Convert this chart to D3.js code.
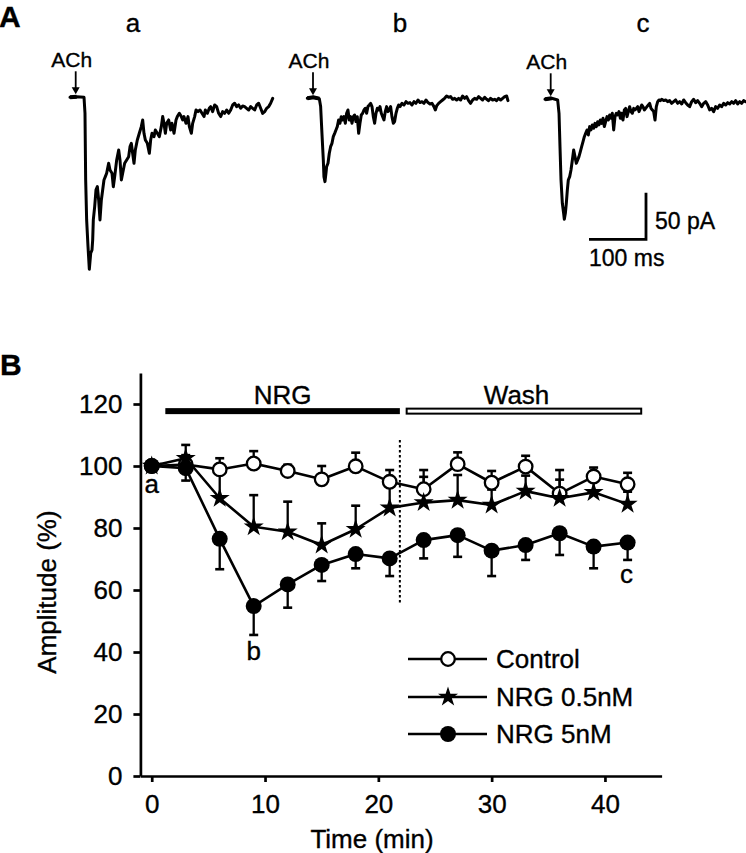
<!DOCTYPE html>
<html>
<head>
<meta charset="utf-8">
<script src="https://cdn.jsdelivr.net/npm/d3@7"></script>
<style>
  html, body { margin: 0; padding: 0; background: #fff; }
  svg { display: block; font-family: "Liberation Sans", Arial, Helvetica, sans-serif; }
  text { stroke: #000; stroke-width: 0.35px; }
</style>
</head>
<body>
<svg id="chart" width="746" height="853"></svg>
<script>
// ---------------- DATA ----------------
// Panel B: time course (min) and amplitude (%)
const times = [0, 3, 6, 9, 12, 15, 18, 21, 24, 27, 30, 33, 36, 39, 42];
const control    = [100, 100.5, 98.9, 100.8, 98.4, 95.7, 99.9, 94.9, 92.5, 100.6, 94.6, 99.8, 91.1, 96.6, 94.1];
const controlErr = [0, 3, 3.6, 4, 2, 4.3, 4.4, 3.8, 6.2, 3.8, 3.8, 3.5, 7.6, 2.9, 3.7];
const nrg05      = [100, 102.5, 89.6, 80.4, 78.8, 74.5, 79.6, 86.5, 88.2, 89, 87.4, 91.9, 89.6, 91.5, 87.7];
const nrg05Err   = [0, 4.3, 9, 10.2, 9.7, 7, 7.6, 8, 8.3, 8.1, 5, 5, 6, 4, 4];
const nrg5       = [100, 99.3, 76.5, 54.8, 61.8, 68.1, 71.6, 70.2, 76.1, 77.7, 72.7, 74.5, 78.3, 74, 75.3];
const nrg5Err    = [0, 4, 9.8, 9.3, 7.5, 5.2, 4.6, 5.7, 5.9, 7, 8.2, 4.8, 7, 7, 5.6];
const seriesNames = ["Control", "NRG 0.5nM", "NRG 5nM"];
const yTicks = [0, 20, 40, 60, 80, 100, 120];
const xTicks = [0, 10, 20, 30, 40];
const nrgPeriod  = [1.2, 21.9];
const washPeriod = [22.5, 43.2];
const washLine   = {t: 21.9, from: 56, to: 109};

// Panel A: current traces [ms, pA]
const traceA = [[0,0],[11.7,0.7],[24.6,0],[26.3,-17.2],[27.5,-88.7],[29.2,-131.6],[31.6,-160.2],[33.9,-184.5],[36.3,-167.4],[38.6,-163.8],[39.8,-153.1],[40.9,-131.6],[43.3,-117.3],[45.6,-99.4],[48,-95.9],[50.3,-110.2],[52.6,-131.6],[55,-110.2],[57.3,-99.4],[59.6,-88.7],[62,-85.1],[64.3,-81.5],[67.8,-70.8],[70.2,-78],[73.7,-81.5],[76,-95.9],[78.4,-85.1],[81.9,-67.2],[85.4,-56.5],[87.7,-67.2],[90.1,-88.7],[92.4,-81.5],[95.9,-70.8],[99.4,-67.2],[102.9,-63.7],[105.3,-52.9],[107.6,-49.4],[109.9,-60.1],[112.3,-70.8],[114.6,-56.5],[118.1,-45.8],[121.6,-38.6],[125.1,-31.5],[127.5,-24.3],[129.8,-38.6],[132.2,-45.8],[135.7,-49.4],[139.2,-60.1],[141.5,-45.8],[143.9,-38.6],[147.4,-42.2],[149.7,-35.1],[153.2,-38.6],[156.7,-42.2],[160.2,-31.5],[162.6,-20.7],[164.9,-27.9],[167.3,-38.6],[169.6,-27.9],[173.1,-24.3],[176.6,-35.1],[178.9,-27.9],[182.5,-38.6],[186,-24.3],[188.3,-20.7],[191.8,-17.2],[195.3,-20.7],[197.7,-24.3],[200,-20.7],[203.5,-27.9],[207,-20.7],[209.4,-31.5],[212.9,-38.6],[215.2,-27.9],[218.7,-20.7],[221.1,-13.6],[224.6,-15.4],[228.1,-13.6],[231.6,-17.2],[235.1,-20.7],[237.4,-13.6],[240.9,-17.2],[244.4,-11.8],[246.8,-10],[250.3,-15.4],[253.8,-8.2],[257.3,-10],[260.8,-17.2],[264.3,-20.7],[267.8,-15.4],[271.3,-17.2],[274.9,-13.6],[278.4,-17.2],[281.9,-13.6],[285.4,-8.2],[288.9,-6.4],[292.4,-10],[295.9,-8.2],[299.4,-11.8],[302.9,-9.3],[306.4,-10],[309.9,-11.8],[313.5,-13.6],[317,-10],[320.5,-11.8],[324,-13.6],[327.5,-8.2],[331,-6.4],[334.5,-11.8],[338,-17.2],[341.5,-15.4],[345,-11.8],[348.5,-10],[352,-6.4],[355.6,-1.1]];
const traceB = [[0,0],[10.5,1.1],[21.1,-0.4],[23.4,-8.9],[25.7,-37.6],[28.1,-66.2],[29.2,-84],[31,-89.4],[32.7,-80.5],[33.9,-73.3],[36.3,-69.7],[38.6,-59],[40.9,-51.9],[43.3,-48.3],[45.6,-41.1],[48,-37.6],[50.3,-34],[52.6,-30.4],[55,-23.2],[57.3,-26.8],[59.6,-19.7],[62,-23.2],[64.3,-19.7],[66.7,-26.8],[69,-16.1],[71.3,-12.5],[73.7,-23.2],[76,-19.7],[78.4,-26.8],[80.7,-19.7],[83,-17.9],[85.4,-25],[87.7,-19.7],[90.1,-37.6],[92.4,-26.8],[94.7,-17.9],[97.1,-16.1],[99.4,-12.5],[101.8,-10.7],[104.1,-16.1],[106.4,-8.9],[108.8,-7.2],[111.1,-5.4],[113.5,-8.9],[115.8,-19.7],[118.1,-26.8],[120.5,-16.1],[122.8,-10.7],[125.1,-12.5],[127.5,-8.9],[129.8,-16.1],[132.2,-19.7],[134.5,-23.2],[136.8,-14.3],[139.2,-8.9],[141.5,-14.3],[143.9,-12.5],[146.2,-8.9],[148.5,-19.7],[150.9,-26.8],[153.2,-25],[155.6,-16.1],[157.9,-10.7],[160.2,-7.2],[162.6,-8.9],[166.1,-5.4],[169.6,-7.2],[173.1,-3.6],[176.6,-5.4],[180.1,-4.6],[183.6,-7.2],[187.1,-3.6],[190.6,-5.4],[194.2,-1.8],[197.7,-4.6],[201.2,-3.6],[204.7,-5.4],[208.2,-1.8],[211.7,-4.6],[215.2,-6.1],[218.7,-5.4],[222.2,-8.9],[224.6,-12.5],[226.9,-8.2],[230.4,-5.4],[233.9,-3.6],[237.4,-1.8],[240.9,0],[244.4,2.5],[248,1.1],[251.5,1.8],[255,-1.1],[258.5,0],[262,-1.8],[265.5,0],[269,-1.8],[272.5,2.5],[276,0],[279.5,1.8],[283,-2.5],[286.5,-5.4],[290.1,-1.8],[293.6,0],[297.1,-1.1],[300.6,1.8],[304.1,0],[307.6,-1.8],[311.1,1.1],[314.6,-1.1],[318.1,-2.5],[321.6,0],[325.1,-1.8],[328.7,-1.1],[332.2,-2.5],[335.7,0],[339.2,-1.8],[342.7,0],[346.2,1.8],[349.7,2.5],[352,-2.5]];
const traceC = [[0,0],[11.7,1.1],[22.2,-0.7],[24.6,-15],[26.3,-50.8],[28.1,-86.6],[30.4,-111.6],[32.7,-122.3],[33.9,-128.8],[35.7,-122.3],[37.4,-111.6],[39.2,-97.3],[40.9,-86.6],[43.3,-83],[45.6,-75.8],[48,-65.1],[50.3,-54.4],[52.6,-61.5],[55,-68.7],[57.3,-65.1],[59.6,-61.5],[62,-56.2],[64.3,-50.8],[66.7,-45.4],[69,-40.1],[71.3,-36.5],[73.7,-32.9],[76,-38.3],[78.4,-29.3],[80.7,-32.9],[83,-27.5],[85.4,-31.1],[87.7,-25.8],[90.1,-29.3],[92.4,-24],[94.7,-27.5],[97.1,-22.2],[99.4,-25.8],[101.8,-20.4],[104.1,-29.3],[106.4,-24],[108.8,-18.6],[111.1,-22.2],[113.5,-16.8],[115.8,-20.4],[118.1,-15],[120.5,-32.9],[122.8,-18.6],[125.1,-15],[127.5,-16.8],[129.8,-13.2],[132.2,-20.4],[134.5,-15],[136.8,-22.2],[139.2,-11.4],[141.5,-9.7],[143.9,-18.6],[146.2,-13.2],[148.5,-7.9],[150.9,-13.2],[153.2,-15],[155.6,-9.7],[157.9,-11.4],[160.2,-9.7],[162.6,-7.9],[164.9,-13.2],[167.3,-9.7],[169.6,-6.1],[171.9,-7.9],[174.3,-11.4],[176.6,-9.7],[178.9,-7.9],[181.3,-6.1],[183.6,-4.3],[186,-9.7],[188.3,-11.4],[190.6,-13.2],[193,-22.2],[195.3,-7.9],[197.7,-2.5],[200,-0.7],[202.3,-1.4],[204.7,0],[208.2,-1.4],[211.7,-0.7],[215.2,-2.5],[218.7,-1.4],[222.2,-4.3],[225.7,-2.5],[229.2,-0.7],[232.7,-4.3],[236.3,-2.5],[239.8,-5],[243.3,-0.7],[246.8,-3.6],[250.3,-6.1],[253.8,-7.9],[257.3,-2.5],[260.8,0],[264.3,-3.6],[267.8,-1.4],[271.3,-4.3],[274.9,-7.9],[278.4,-4.3],[281.9,-2.5],[285.4,-6.1],[288.9,-11.4],[292.4,-9.7],[295.9,-13.2],[299.4,-7.9],[302.9,-9.7],[306.4,-6.1],[309.9,-7.9],[313.5,-4.3],[317,-6.1],[320.5,-3.6],[324,-5],[327.5,-2.5],[331,-4.3],[334.5,-1.4],[338,-5],[341.5,-2.5],[345,-4.3],[348.5,-1.4],[352,-2.5]];
const traceLabels = ["a", "b", "c"];
const achDelay = 10;       // ms of arrow after trace start
const scaleBarMs = 100;
const scaleBarPA = 50;

// ---------------- DRAW ----------------
const svg = d3.select("#chart");
svg.append("rect").attr("width", 746).attr("height", 853).attr("fill", "#fff");

// Panel labels
svg.append("text").attr("x", -1).attr("y", 27).attr("font-size", 30).attr("font-weight", "bold").text("A");
svg.append("text").attr("x", 0).attr("y", 375).attr("font-size", 30).attr("font-weight", "bold").text("B");

// ---- Panel A ----
const xT = d3.scaleLinear().domain([0, 100]).range([0, 57]);
const yT = d3.scaleLinear().domain([0, -50]).range([0, 46.6]);
const traceLine = d3.line().x(d => xT(d[0])).y(d => yT(d[1]));
const traceOrigins = [[70, 97.3], [307.3, 98.3], [545, 99.3]];
const traceLabelX = [133, 400, 643];
[traceA, traceB, traceC].forEach((tr, i) => {
  const g = svg.append("g").attr("transform", `translate(${traceOrigins[i][0]},${traceOrigins[i][1]})`);
  g.append("path").datum(tr).attr("d", traceLine)
    .attr("fill", "none").attr("stroke", "#000").attr("stroke-width", 3)
    .attr("stroke-linejoin", "round").attr("stroke-linecap", "round");
  // thicker pre-stimulus baseline
  g.append("path").datum(tr.filter(d => d[0] <= 22)).attr("d", traceLine)
    .attr("fill", "none").attr("stroke", "#000").attr("stroke-width", 4);
  const ax = xT(achDelay);
  g.append("text").attr("x", ax - 4).attr("y", -30).attr("text-anchor", "middle")
    .attr("font-size", 21).text("ACh");
  g.append("line").attr("x1", ax).attr("x2", ax).attr("y1", -26).attr("y2", -8)
    .attr("stroke", "#000").attr("stroke-width", 1.8);
  g.append("path").attr("d", `M${ax-4},${-10}L${ax+4},${-10}L${ax},${-3}Z`).attr("fill", "#000");
  svg.append("text").attr("x", traceLabelX[i]).attr("y", 32).attr("text-anchor", "middle")
    .attr("font-size", 26).text(traceLabels[i]);
});
// scale bar
const sb = svg.append("g").attr("transform", "translate(646,239.3)");
sb.append("path")
  .attr("d", `M${-xT(scaleBarMs)},0H0V${-yT(-scaleBarPA)}`)
  .attr("fill", "none").attr("stroke", "#000").attr("stroke-width", 2.8);
sb.append("text").attr("x", 9).attr("y", -10).attr("font-size", 23).text(scaleBarPA + " pA");
sb.append("text").attr("x", -xT(scaleBarMs)).attr("y", 27).attr("font-size", 23).text(scaleBarMs + " ms");

// ---- Panel B ----
const x = d3.scaleLinear().domain([-1, 45]).range([140.4, 661.6]);
const y = d3.scaleLinear().domain([0, 130]).range([776, 373]);
const ax = svg.append("g");

const yAxis = d3.axisLeft(y).tickValues(yTicks).tickSize(7).tickPadding(11).tickSizeOuter(0);
const gy = ax.append("g").attr("transform", `translate(${x(-1)},0)`).call(yAxis);
const xAxis = d3.axisBottom(x).tickValues(xTicks).tickSize(6).tickPadding(13).tickSizeOuter(0);
const gx = ax.append("g").attr("transform", `translate(0,${y(0)})`).call(xAxis);
[gx, gy].forEach(g => {
  g.selectAll("path.domain").attr("stroke", "#000").attr("stroke-width", 2.7);
  g.selectAll(".tick line").attr("stroke", "#000").attr("stroke-width", 2.7);
  g.selectAll(".tick text").attr("font-size", 26).attr("fill", "#000")
    .attr("font-family", "Liberation Sans, Arial, sans-serif");
});
svg.append("text").attr("transform", "translate(56,592) rotate(-90)").attr("text-anchor", "middle")
  .attr("font-size", 26).text("Amplitude (%)");
svg.append("text").attr("x", 372).attr("y", 848).attr("text-anchor", "middle")
  .attr("font-size", 26).text("Time (min)");

// treatment bars
const barY = y(117.7);
svg.append("rect").attr("x", x(nrgPeriod[0])).attr("y", barY - 3).attr("width", x(nrgPeriod[1]) - x(nrgPeriod[0]))
  .attr("height", 6).attr("fill", "#000");
svg.append("rect").attr("x", x(washPeriod[0])).attr("y", barY - 2.5).attr("width", x(washPeriod[1]) - x(washPeriod[0]))
  .attr("height", 5).attr("fill", "#fff").attr("stroke", "#000").attr("stroke-width", 2);
svg.append("text").attr("x", x((nrgPeriod[0] + nrgPeriod[1]) / 2)).attr("y", 404).attr("text-anchor", "middle")
  .attr("font-size", 26).text("NRG");
svg.append("text").attr("x", x(32.2)).attr("y", 404).attr("text-anchor", "middle")
  .attr("font-size", 26).text("Wash");

// dotted washout line
svg.append("line").attr("x1", x(washLine.t)).attr("x2", x(washLine.t))
  .attr("y1", y(washLine.from)).attr("y2", y(washLine.to))
  .attr("stroke", "#000").attr("stroke-width", 2).attr("stroke-dasharray", "2.5,2.5");

const series = [
  {name: seriesNames[0], vals: control, err: controlErr, dir: 1, type: "open"},
  {name: seriesNames[1], vals: nrg05, err: nrg05Err, dir: 1, type: "star"},
  {name: seriesNames[2], vals: nrg5, err: nrg5Err, dir: -1, type: "filled"}
];
const line = d3.line().x((d, i) => x(times[i])).y(d => y(d));
const starSym = d3.symbol().type(d3.symbolStar).size(125);

function drawMarker(g, type, cx, cy) {
  if (type === "open") {
    g.append("circle").attr("cx", cx).attr("cy", cy).attr("r", 6.8)
      .attr("fill", "#fff").attr("stroke", "#000").attr("stroke-width", 2.3);
  } else if (type === "filled") {
    g.append("circle").attr("cx", cx).attr("cy", cy).attr("r", 8).attr("fill", "#000");
  } else {
    g.append("path").attr("d", starSym()).attr("transform", `translate(${cx},${cy})`).attr("fill", "#000");
  }
}

// error bars
series.forEach(s => {
  const g = svg.append("g");
  s.vals.forEach((v, i) => {
    if (!s.err[i]) return;
    const cx = x(times[i]);
    const ye = y(v + s.dir * s.err[i]);
    g.append("line").attr("x1", cx).attr("x2", cx).attr("y1", y(v)).attr("y2", ye)
      .attr("stroke", "#000").attr("stroke-width", 2.3);
    g.append("line").attr("x1", cx - 4.5).attr("x2", cx + 4.5).attr("y1", ye).attr("y2", ye)
      .attr("stroke", "#000").attr("stroke-width", 2.6);
  });
});
// lines
series.forEach(s => {
  svg.append("path").datum(s.vals).attr("d", line).attr("fill", "none")
    .attr("stroke", "#000").attr("stroke-width", 2.6).attr("stroke-linejoin", "round");
});
// markers
series.forEach(s => {
  const g = svg.append("g");
  s.vals.forEach((v, i) => drawMarker(g, s.type, x(times[i]), y(v)));
});

// point labels a, b, c
svg.append("text").attr("x", x(0)).attr("y", 493).attr("text-anchor", "middle").attr("font-size", 26).text("a");
svg.append("text").attr("x", x(9)).attr("y", 660).attr("text-anchor", "middle").attr("font-size", 26).text("b");
svg.append("text").attr("x", x(41.9)).attr("y", 583).attr("text-anchor", "middle").attr("font-size", 26).text("c");

// legend
const legRows = [659, 697, 734];
series.forEach((s, i) => {
  const g = svg.append("g");
  g.append("line").attr("x1", 408).attr("x2", 487).attr("y1", legRows[i]).attr("y2", legRows[i])
    .attr("stroke", "#000").attr("stroke-width", 2.6);
  drawMarker(g, s.type, 448, legRows[i]);
  g.append("text").attr("x", 496).attr("y", legRows[i]).attr("dy", "0.36em").attr("font-size", 26).text(s.name);
});
</script>
</body>
</html>
